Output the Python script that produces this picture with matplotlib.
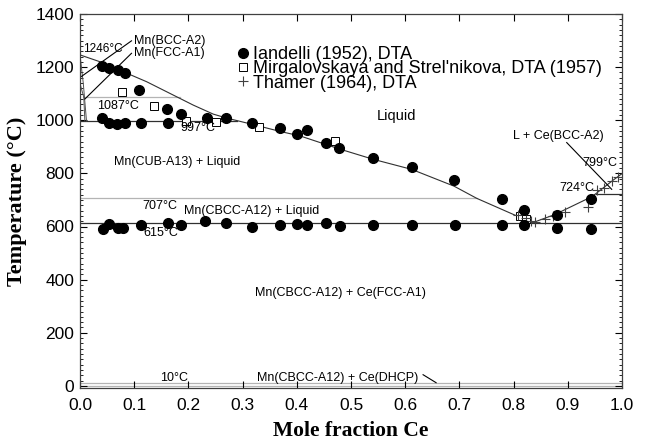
import matplotlib
matplotlib.use("Agg")
import matplotlib.pyplot as plt
from matplotlib.ticker import MultipleLocator

# ---- data ----
iandelli_x = [0.040, 0.054, 0.071, 0.083, 0.109, 0.161, 0.186, 0.235, 0.269, 0.317,
              0.369, 0.400, 0.419, 0.454, 0.478, 0.540, 0.612, 0.690, 0.778, 0.820,
              0.880, 0.942,
              0.040, 0.054, 0.069, 0.083, 0.112, 0.163,
              0.042, 0.054, 0.071, 0.080, 0.112, 0.163, 0.186, 0.231, 0.269, 0.317,
              0.369, 0.401, 0.419, 0.454, 0.480, 0.541, 0.612, 0.692, 0.778, 0.820,
              0.880, 0.942]
iandelli_T = [1205, 1195, 1189, 1177, 1113, 1043, 1023, 1010, 1008, 989,
              969, 950, 963, 916, 897, 859, 825, 775, 704, 664,
              645, 702,
              1010, 989, 985, 989, 988, 988,
              592, 611, 595, 595, 605, 614, 605, 620, 614, 599,
              605, 609, 605, 614, 601, 604, 606, 607, 605, 605,
              595, 589]

mirg_x = [0.077, 0.137, 0.196, 0.250, 0.330, 0.470, 0.812, 0.822]
mirg_T = [1105, 1054, 997, 994, 975, 922, 640, 630]

thamer_x = [0.809, 0.823, 0.832, 0.839, 0.858, 0.872, 0.895, 0.938, 0.953, 0.967, 0.981, 0.993]
thamer_T = [645, 633, 622, 617, 629, 639, 653, 674, 737, 746, 771, 788]

# calculated liquidus (Mn side and Ce side)
liq_mn_x = [0.0, 0.040, 0.083, 0.123, 0.166, 0.209, 0.246, 0.271, 0.317, 0.369, 0.406,
            0.480, 0.541, 0.612, 0.690, 0.732, 0.800, 0.836]
liq_mn_T = [1246, 1218, 1180, 1145, 1101, 1057, 1023, 1008, 985, 958, 941,
            891, 853, 815, 752, 706, 645, 615]
liq_ce_x = [0.836, 0.876, 0.944, 0.952, 0.984, 1.0]
liq_ce_T = [615, 645, 712, 724, 775, 799]

# invariant lines: (T, x_start, x_end)
black_lines = [(997, 0.0, 0.290), (615, 0.0, 1.0), (724, 0.952, 1.0)]
gray_lines = [(1087, 0.006, 0.185), (707, 0.0, 0.733), (10, 0.0, 1.0), (0, 0.0, 1.0)]

# small Mn-rich solid boundaries
mn_solid_x = [[0.0, 0.006, 0.012], [0.0, 0.007, 0.009]]
mn_solid_T = [[1246, 1140, 997], [1138, 1087, 997]]

# leader lines
leader_x = [[0.0, 0.095], [0.009, 0.095], [0.898, 0.981], [0.633, 0.657]]
leader_T = [[1161, 1299], [1080, 1252], [916, 740], [42, 12]]

labels = [
    ("1246°C", 0.006, 1268, 8.5),
    ("Mn(BCC-A2)", 0.099, 1299, 9),
    ("Mn(FCC-A1)", 0.099, 1252, 9),
    ("1087°C", 0.031, 1054, 9),
    ("997°C", 0.186, 969, 9),
    ("Liquid", 0.548, 1017, 10.5),
    ("Mn(CUB-A13) + Liquid", 0.063, 843, 9),
    ("707°C", 0.115, 677, 9),
    ("Mn(CBCC-A12) + Liquid", 0.191, 658, 9),
    ("615°C", 0.117, 576, 9),
    ("Mn(CBCC-A12) + Ce(FCC-A1)", 0.323, 351, 9),
    ("L + Ce(BCC-A2)", 0.798, 941, 9),
    ("799°C", 0.926, 840, 9),
    ("724°C", 0.884, 746, 9),
    ("10°C", 0.148, 29, 9),
    ("Mn(CBCC-A12) + Ce(DHCP)", 0.326, 29, 9),
]

plt.rcParams['font.family'] = ['Liberation Sans', 'DejaVu Sans']

fig = plt.figure(figsize=(6.47, 4.41), dpi=100)
ax = fig.add_axes([80 / 647, 1 - 388 / 441, 542 / 647, 374 / 441])

for T, x0, x1 in gray_lines:
    ax.plot([x0, x1], [T, T], color="#b4b4b4", lw=0.9, zorder=1)
for T, x0, x1 in black_lines:
    ax.plot([x0, x1], [T, T], color="#303030", lw=0.9, zorder=1)
ax.plot(liq_mn_x, liq_mn_T, color="#303030", lw=0.8, zorder=2)
ax.plot(liq_ce_x, liq_ce_T, color="#303030", lw=0.8, zorder=2)
for xs, Ts in zip(mn_solid_x, mn_solid_T):
    ax.plot(xs, Ts, color="#505050", lw=0.7, zorder=2)
for xs, Ts in zip(leader_x, leader_T):
    ax.plot(xs, Ts, color="black", lw=0.8, zorder=2)

h1, = ax.plot(iandelli_x, iandelli_T, 'o', color="black", ms=7, ls='none', zorder=4,
              label="Iandelli (1952), DTA")
h2, = ax.plot(mirg_x, mirg_T, 's', mfc='white', mec='black', mew=0.7, ms=6, ls='none', zorder=3,
              label="Mirgalovskaya and Strel'nikova, DTA (1957)")
h3, = ax.plot(thamer_x, thamer_T, '+', color="#404040", mew=0.8, ms=7, ls='none', zorder=3,
              label="Thamer (1964), DTA")

for txt, x, T, fs in labels:
    ax.text(x, T, txt, fontsize=fs, ha='left', va='center', zorder=5)

leg = ax.legend(handles=[h1, h2, h3], loc='upper left',
                bbox_to_anchor=(236 / 647, 1 - 46 / 441), bbox_transform=fig.transFigure,
                frameon=False, fontsize=13, handlelength=0.8, handletextpad=0.15,
                labelspacing=-0.15, borderpad=0, borderaxespad=0)

ax.set_xlim(0, 1.0)
ax.set_ylim(-8, 1400)
ax.yaxis.set_major_locator(MultipleLocator(200))
ax.yaxis.set_minor_locator(MultipleLocator(20))
ax.tick_params(which='both', direction='in', top=True, right=True, labelsize=12.5)
ax.tick_params(axis='x', pad=7)
ax.tick_params(axis='y', pad=4)
ax.tick_params(which='major', length=5, width=0.8)
ax.tick_params(which='minor', length=2.5, width=0.6)
ax.set_xticks([i / 10 for i in range(11)])
ax.set_xticklabels([f"{i/10:.1f}" for i in range(11)])
for s in ax.spines.values():
    s.set_linewidth(0.9)
    s.set_color("#404040")

ax.set_xlabel("Mole fraction Ce", fontsize=15.5, fontweight='bold',
              family='Liberation Serif', labelpad=6)
ax.set_ylabel("Temperature (°C)", fontsize=16, fontweight='bold',
              family='Liberation Serif', labelpad=6)

fig.savefig("out.png", dpi=100)
